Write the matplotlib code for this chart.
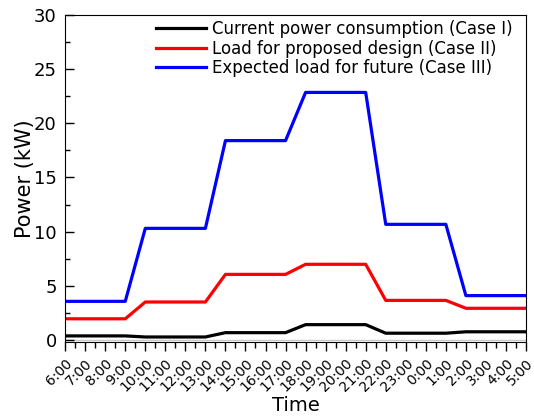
import matplotlib
matplotlib.use('Agg')
import matplotlib.pyplot as plt
from matplotlib.ticker import MultipleLocator

plt.rcParams['font.family'] = ['DejaVu Sans Condensed', 'DejaVu Sans']

hours = ['6:00', '7:00', '8:00', '9:00', '10:00', '11:00', '12:00', '13:00',
         '14:00', '15:00', '16:00', '17:00', '18:00', '19:00', '20:00', '21:00',
         '22:00', '23:00', '0:00', '1:00', '2:00', '3:00', '4:00', '5:00']

case1 = [0.37, 0.37, 0.37, 0.37, 0.27, 0.27, 0.27, 0.27,
         0.67, 0.67, 0.67, 0.67, 1.41, 1.41, 1.41, 1.41,
         0.62, 0.62, 0.62, 0.62, 0.75, 0.75, 0.75, 0.75]
case2 = [1.95, 1.95, 1.95, 1.95, 3.5, 3.5, 3.5, 3.5,
         6.05, 6.05, 6.05, 6.05, 6.98, 6.98, 6.98, 6.98,
         3.65, 3.65, 3.65, 3.65, 2.92, 2.92, 2.92, 2.92]
case3 = [3.56, 3.56, 3.56, 3.56, 10.3, 10.3, 10.3, 10.3,
         18.4, 18.4, 18.4, 18.4, 22.85, 22.85, 22.85, 22.85,
         10.67, 10.67, 10.67, 10.67, 4.09, 4.09, 4.09, 4.09]

x = list(range(len(hours)))

fig = plt.figure(figsize=(5.34, 4.16), dpi=100)
ax = fig.add_axes([0.122, 0.179, 0.863, 0.785])

ax.axhline(0, color='#c8c8c8', lw=1, zorder=1)
ax.plot(x, case1, color='black', lw=2.3, label='Current power consumption (Case I)')
ax.plot(x, case2, color='red', lw=2.3, label='Load for proposed design (Case II)')
ax.plot(x, case3, color='blue', lw=2.3, label='Expected load for future (Case III)')

ax.set_xlim(0, len(hours) - 1)
ax.set_ylim(-0.15, 30)
ax.set_xticks(x)
ax.set_xticklabels(hours, rotation=45, ha='right', rotation_mode='anchor')
ax.xaxis.set_minor_locator(MultipleLocator(0.5))
ax.yaxis.set_major_locator(MultipleLocator(5))
ax.yaxis.set_minor_locator(MultipleLocator(2.5))
ax.tick_params(axis='x', which='major', direction='out', length=6.5, width=1,
               labelsize=10, pad=4)
ax.tick_params(axis='x', which='minor', direction='out', length=4, width=1)
ax.tick_params(axis='y', which='major', direction='in', length=6.5, width=1,
               labelsize=13, pad=6)
ax.tick_params(axis='y', which='minor', direction='in', length=3.5, width=1)

ax.set_xlabel('Time', fontsize=14, labelpad=1)
ax.set_ylabel('Power (kW)', fontsize=15, labelpad=-1)

ax.legend(loc='upper right', bbox_to_anchor=(0.97, 0.984), frameon=False, fontsize=12,
          handlelength=3.0, handletextpad=0.35, borderaxespad=0, borderpad=0,
          labelspacing=0.08)

fig.savefig('out.png', dpi=100)
